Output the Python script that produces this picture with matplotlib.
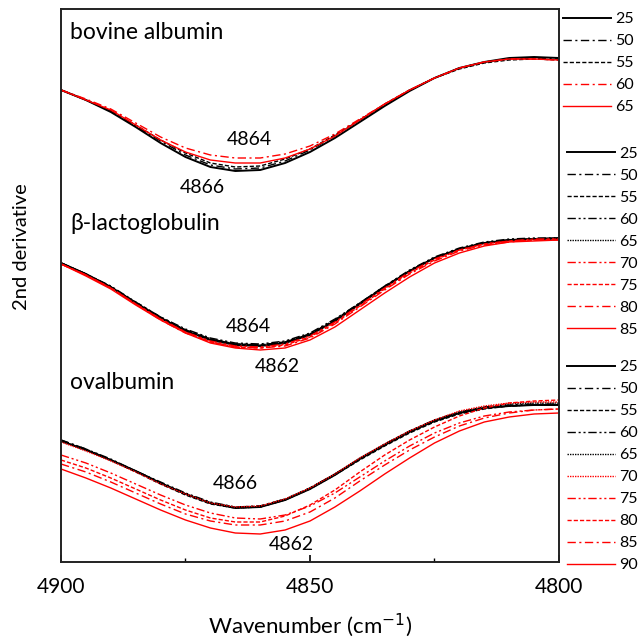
import matplotlib
matplotlib.use("Agg")
import matplotlib.pyplot as plt
from matplotlib.lines import Line2D
from matplotlib.ticker import MultipleLocator

plt.rcParams["font.family"] = ["Lato", "DejaVu Sans"]

# wavenumber grid (cm-1) and 2nd derivative (a.u., curves offset vertically)
wavenumber = [4900, 4895, 4890, 4885, 4880, 4875, 4870, 4865, 4860, 4855, 4850,
              4845, 4840, 4835, 4830, 4825, 4820, 4815, 4810, 4805, 4800]

# bovine albumin, temperatures in C
bsa_temps = ["25", "50", "55", "60", "65"]
bsa_25 = [472, 462, 450, 435, 419, 405, 395, 391, 392, 399, 410, 424, 440, 456, 471, 484, 494, 500, 504, 505, 504]
bsa_50 = [472, 462, 451, 436, 421, 407, 397, 393, 394, 401, 412, 426, 442, 457, 472, 484, 494, 500, 503, 504, 503]
bsa_55 = [472, 462, 451, 437, 422, 409, 399, 395, 396, 403, 413, 427, 442, 458, 472, 484, 493, 499, 502, 503, 502]
bsa_60 = [472, 463, 453, 439, 425, 414, 407, 404, 404, 408, 416, 428, 443, 458, 472, 484, 494, 500, 503, 503, 502]
bsa_65 = [472, 462, 452, 437, 422, 410, 402, 399, 399, 404, 413, 426, 442, 458, 472, 484, 494, 500, 503, 503, 502]

# beta-lactoglobulin
blg_temps = ["25", "50", "55", "60", "65", "70", "75", "80", "85"]
blg_25 = [299, 288, 275, 259, 244, 231, 222, 217, 216, 219, 227, 241, 258, 275, 291, 304, 313, 319, 322, 323, 324]
blg_50 = [299, 288, 275, 259, 244, 232, 223, 218, 217, 220, 228, 242, 259, 276, 291, 304, 313, 319, 322, 323, 323]
blg_55 = [299, 288, 275, 260, 245, 232, 223, 218, 217, 220, 228, 242, 259, 275, 291, 304, 313, 319, 322, 323, 323]
blg_60 = [299, 288, 276, 260, 245, 233, 224, 219, 218, 221, 229, 243, 259, 276, 292, 305, 314, 320, 323, 324, 324]
blg_65 = [299, 288, 275, 259, 244, 232, 223, 218, 217, 220, 228, 241, 258, 275, 291, 304, 313, 319, 322, 323, 324]
blg_70 = [298, 287, 274, 258, 243, 230, 221, 216, 215, 218, 226, 240, 257, 274, 290, 303, 312, 318, 321, 323, 323]
blg_75 = [298, 287, 274, 258, 243, 230, 220, 215, 214, 217, 225, 239, 256, 273, 289, 302, 312, 318, 321, 322, 323]
blg_80 = [298, 287, 274, 258, 242, 229, 220, 215, 214, 216, 224, 238, 255, 272, 288, 301, 311, 317, 320, 322, 322]
blg_85 = [298, 286, 273, 257, 242, 229, 219, 214, 212, 214, 222, 235, 252, 269, 285, 299, 309, 316, 320, 321, 322]

# ovalbumin
ova_temps = ["25", "50", "55", "60", "65", "70", "75", "80", "85", "90"]
ova_25 = [121, 112, 102, 91, 79, 68, 59, 54, 55, 62, 73, 87, 103, 117, 130, 141, 149, 154, 156, 157, 157]
ova_50 = [122, 113, 102, 91, 79, 68, 59, 55, 56, 63, 74, 88, 103, 117, 130, 141, 149, 154, 156, 157, 157]
ova_55 = [121, 112, 102, 90, 78, 67, 58, 54, 55, 62, 73, 87, 102, 116, 129, 140, 148, 153, 156, 157, 157]
ova_60 = [122, 113, 103, 91, 80, 69, 60, 55, 56, 63, 74, 88, 103, 118, 131, 142, 150, 155, 157, 158, 158]
ova_65 = [121, 112, 102, 91, 79, 68, 59, 54, 55, 62, 74, 88, 104, 118, 131, 142, 150, 155, 158, 159, 159]
ova_70 = [120, 111, 101, 90, 78, 68, 59, 55, 56, 63, 74, 88, 104, 118, 131, 142, 151, 156, 159, 160, 160]
ova_75 = [107, 99, 89, 78, 67, 57, 49, 44, 43, 47, 56, 69, 85, 101, 116, 129, 139, 146, 150, 152, 153]
ova_80 = [102, 94, 84, 73, 62, 52, 44, 40, 40, 46, 57, 72, 90, 107, 122, 135, 146, 154, 159, 161, 162]
ova_85 = [98, 90, 80, 69, 58, 48, 41, 37, 37, 41, 50, 64, 81, 97, 112, 125, 136, 144, 149, 152, 153]
ova_90 = [93, 84, 74, 63, 52, 42, 34, 29, 28, 32, 41, 55, 71, 88, 104, 119, 131, 140, 145, 148, 149]

# line styles
SOLID = "-"
DASHDOT = (0, (6, 2.5, 1.5, 2.5))
DASHED = (0, (3, 1.5))
DASHDOTDOT = (0, (6, 2, 1.5, 2, 1.5, 2))
DOTTED = (0, (1, 0.8))
RED = "#ff0000"

bsa_series = [
    (bsa_25, "black", SOLID), (bsa_50, "black", DASHDOT), (bsa_55, "black", DASHED),
    (bsa_60, RED, DASHDOT), (bsa_65, RED, SOLID),
]
blg_series = [
    (blg_25, "black", SOLID), (blg_50, "black", DASHDOT), (blg_55, "black", DASHED),
    (blg_60, "black", DASHDOTDOT), (blg_65, "black", DOTTED), (blg_70, RED, DASHDOTDOT),
    (blg_75, RED, DASHED), (blg_80, RED, DASHDOT), (blg_85, RED, SOLID),
]
ova_series = [
    (ova_25, "black", SOLID), (ova_50, "black", DASHDOT), (ova_55, "black", DASHED),
    (ova_60, "black", DASHDOTDOT), (ova_65, "black", DOTTED), (ova_70, RED, DOTTED),
    (ova_75, RED, DASHDOTDOT), (ova_80, RED, DASHED), (ova_85, RED, DASHDOT),
    (ova_90, RED, SOLID),
]

W, H = 638, 641
fig = plt.figure(figsize=(W / 100, H / 100), dpi=100)
ax = fig.add_axes([61 / W, 1 - 562 / H, 498 / W, 553 / H])

groups = [(bsa_series, bsa_temps), (blg_series, blg_temps), (ova_series, ova_temps)]
group_handles = []
for series, temps in groups:
    handles = []
    for (vals, color, ls), t in zip(series, temps):
        lw = 1.4 if (ls == SOLID and color == "black") else 1.0
        ax.plot(wavenumber, vals, color=color, linestyle=ls, linewidth=lw,
                solid_joinstyle="round")
        handles.append(Line2D([], [], color=color, linestyle=ls, linewidth=lw, label=t))
    group_handles.append(handles)

ax.set_xlim(4900, 4800)
ax.set_ylim(0, 553)
ax.set_yticks([])
ax.xaxis.set_major_locator(MultipleLocator(50))
ax.xaxis.set_minor_locator(MultipleLocator(25))
ax.tick_params(axis="x", which="major", direction="in", length=5, width=1.2,
               labelsize=15, pad=11)
ax.tick_params(axis="x", which="minor", direction="in", length=3, width=1.0)
ax.tick_params(axis="x", which="both", top=False)
for sp in ax.spines.values():
    sp.set_linewidth(1.4)
    sp.set_color("#222222")

ax.set_xlabel("Wavenumber (cm$^{-1}$)", fontsize=16, labelpad=10)
ax.set_ylabel("2nd derivative", fontsize=14.5)
ax.yaxis.set_label_coords(-0.062, 0.57)

# protein names
ax.text(0.018, 0.957, "bovine albumin", transform=ax.transAxes, fontsize=16.5,
        va="center", ha="left")
ax.text(0.018, 0.612, "\u03b2-lactoglobulin", transform=ax.transAxes, fontsize=16.5,
        va="center", ha="left")
ax.text(0.018, 0.325, "ovalbumin", transform=ax.transAxes, fontsize=16.5,
        va="center", ha="left")

# peak position labels
peak_labels = [
    (4862.2, 422, "4864"), (4871.7, 374, "4866"),
    (4862.3, 235, "4864"), (4856.5, 195, "4862"),
    (4865, 78, "4866"), (4853.8, 17, "4862"),
]
for x, y, s in peak_labels:
    ax.text(x, y, s, fontsize=14, ha="center", va="center")

# legends on the right
legend_tops = [0.981, 0.771, 0.438]
legend_x = [563 / W, 567 / W, 567 / W]
for handles, top, lx in zip(group_handles, legend_tops, legend_x):
    fig.legend(handles=handles, loc="upper left", bbox_to_anchor=(lx, top),
               frameon=False, fontsize=11.5, handlelength=3.0,
               handletextpad=0.25, labelspacing=0.49, borderpad=0,
               borderaxespad=0)

fig.savefig("out.png", dpi=100)
